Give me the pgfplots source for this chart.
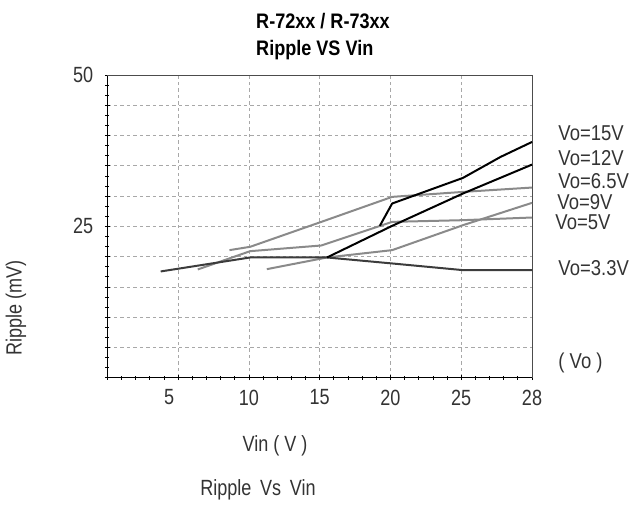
\documentclass[border=0pt]{standalone}
\usepackage{fontspec}
\setmainfont[FakeStretch=0.82]{Liberation Sans}
\newfontfamily\wfont[FakeStretch=0.86]{Liberation Sans}
\usepackage{pgfplots}
\pgfplotsset{compat=1.18}
\definecolor{txt}{HTML}{333333}
\definecolor{lgray}{HTML}{8A8A8A}
\definecolor{dgray}{HTML}{3C3C3C}
\definecolor{gridc}{HTML}{A8A8A8}

\pgfplotstableread{
x y
3.77 17.55
10.09 19.86
15.52 19.86
20.12 18.87
25.12 17.77
30.0 17.77
}\vothree
\pgfplotstableread{
x y
6.39 17.88
10.09 20.90
15.12 21.84
20.12 25.74
25.12 26.02
30.0 26.46
}\vofive
\pgfplotstableread{
x y
8.63 21.07
10.09 21.62
15.12 25.74
20.12 29.87
25.12 30.69
30.0 31.41
}\vosix
\pgfplotstableread{
x y
11.27 17.93
15.52 19.86
20.12 21.07
25.12 25.19
30.0 28.88
}\vonine
\pgfplotstableread{
x y
15.52 19.86
20.12 25.08
25.12 30.42
30.0 35.20
}\votwelve
\pgfplotstableread{
x y
19.25 25.08
20.12 28.77
25.12 33.00
27.78 36.47
30.0 38.94
}\vofifteen

\begin{document}
\begin{tikzpicture}
\path[use as bounding box] (-107.3pt,-127.3pt) rectangle (523.7pt,377.7pt);
\begin{axis}[
  scale only axis, width=424.7pt, height=302.7pt,
  xmin=0, xmax=30, ymin=0, ymax=50,
  axis x line*=bottom, axis y line*=left,
  axis line style={black, line width=0.9pt},
  clip=false,
  /pgf/number format/assume math mode=true,
  tick label style={font=\fontsize{22}{26}\selectfont, text=txt},
  label style={font=\fontsize{22}{26}\selectfont, text=txt},
  xtick={5,10,15,20,25,30},
  xticklabels={\hbox to 0pt{\hss5\hskip18pt\hss},10,15,20,25,28},
  ytick={0,5,...,50},
  yticklabels={,,,,,25,,,,,50},
  minor xtick={0,1,...,30},
  minor ytick={1.6667,3.3333,6.6667,8.3333,11.6667,13.3333,16.6667,18.3333,21.6667,23.3333,26.6667,28.3333,31.6667,33.3333,36.6667,38.3333,41.6667,43.3333,46.6667,48.3333},
  tick align=center,
  major tick length=5pt, minor tick length=4pt,
  every tick/.style={black, line width=0.7pt},
  grid=major,
  major grid style={gridc, line width=0.7pt, dash pattern=on 3.5pt off 3pt},
  xticklabel style={yshift=-6pt},
  yticklabel style={xshift=-8pt},
  xlabel={Vin ( V )},
  xlabel style={at={(rel axis cs:0.395,-0.2454)}, anchor=base},
  ylabel={Ripple (mV)},
  ylabel style={at={(rel axis cs:-0.215,0.23)}, anchor=center},
  every axis plot/.append style={line width=2pt, line join=round, no markers},
]
\draw[gray!60!black, line width=0.8pt] (rel axis cs:0,1) -- (rel axis cs:1,1) -- (rel axis cs:1,0);
\addplot[lgray] table[x=x,y=y] {\vofive};
\addplot[lgray] table[x=x,y=y] {\vosix};
\addplot[lgray] table[x=x,y=y] {\vonine};
\addplot[dgray] table[x=x,y=y] {\vothree};
\addplot[black] table[x=x,y=y] {\votwelve};
\addplot[black] table[x=x,y=y] {\vofifteen};

\node[anchor=base west, text=black, font=\wfont\bfseries\fontsize{21}{25}\selectfont] at (axis cs:10.27,57.71) {R-72xx / R-73xx};
\node[anchor=base west, text=black, font=\wfont\bfseries\fontsize{21}{25}\selectfont] at (axis cs:10.27,53.30) {Ripple VS Vin};

\begin{scope}[every node/.style={anchor=base west, inner sep=0.5pt, text=txt, font=\wfont\fontsize{21.5}{25}\selectfont}]
\node at (axis cs:31.82,39.26) {Vo=15V};
\node at (axis cs:31.82,35.13) {Vo=12V};
\node at (axis cs:31.82,31.33) {Vo=6.5V};
\node at (axis cs:31.75,27.80) {Vo=9V};
\node at (axis cs:31.61,24.50) {Vo=5V};
\node at (axis cs:31.82,16.80) {Vo=3.3V};
\node at (axis cs:31.82,1.60) {( Vo )};
\end{scope}
\node[anchor=base, text=txt, font=\fontsize{22}{26}\selectfont] at (rel axis cs:0.3547,-0.3876) {Ripple\, Vs\, Vin};
\end{axis}
\end{tikzpicture}
\end{document}
